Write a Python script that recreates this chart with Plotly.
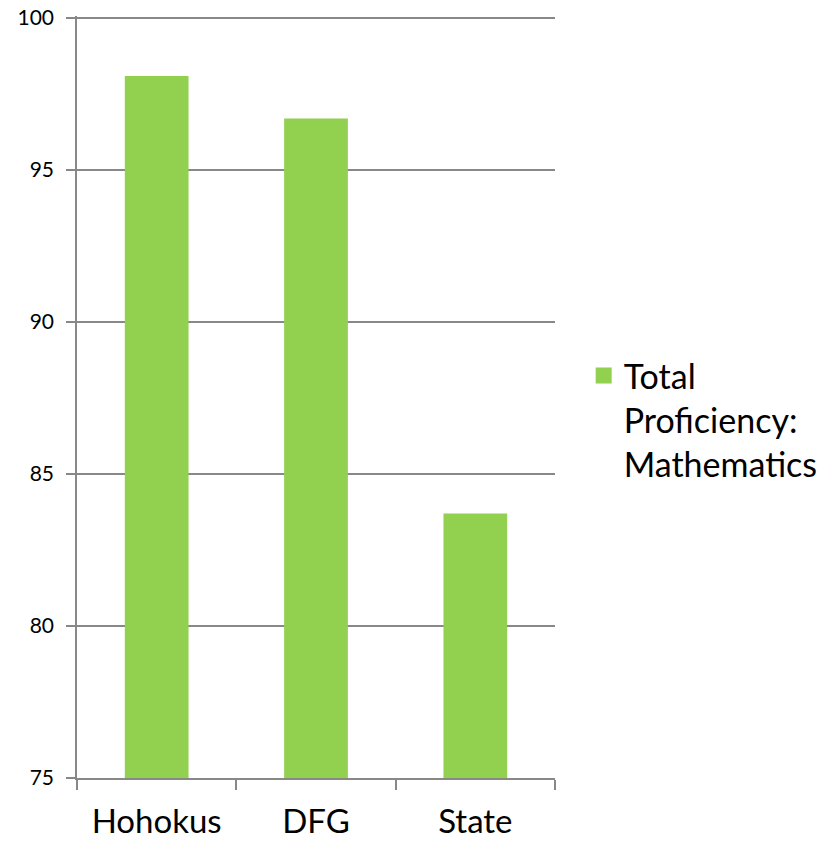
import plotly.graph_objects as go

categories = ["Hohokus", "DFG", "State"]
values = [98.1, 96.7, 83.7]
series_name = "Total<br>Proficiency:<br>Mathematics"
y_ticks = [75, 80, 85, 90, 95, 100]
bar_color = "#92D050"

fig = go.Figure()
fig.add_trace(go.Bar(x=categories, y=values, name=series_name,
                     marker=dict(color=bar_color, line=dict(width=0)),
                     showlegend=False))
# legend entry with a larger square swatch
fig.add_trace(go.Scatter(x=[None], y=[None], mode="markers", name=series_name,
                         marker=dict(symbol="square", size=21, color=bar_color),
                         showlegend=True))

fig.update_layout(
    width=838, height=842,
    margin=dict(l=77, r=283, t=16, b=64, autoexpand=False),
    paper_bgcolor="white", plot_bgcolor="white",
    bargap=0.6,
    font=dict(family="Lato, Open Sans, sans-serif", color="black"),
    legend=dict(x=1.06, y=0.47, xanchor="left", yanchor="middle",
                font=dict(size=34), itemsizing="trace", valign="top",
                bgcolor="rgba(0,0,0,0)", itemwidth=30),
)
fig.update_xaxes(type="category", showline=True, linecolor="#888888", linewidth=1.5,
                 ticks="outside", tickson="boundaries", ticklen=10,
                 tickcolor="#888888", tickwidth=1.5, automargin=False,
                 ticklabelstandoff=14,
                 tickfont=dict(size=33), showgrid=False)
fig.update_yaxes(range=[75, 100.07], tickvals=y_ticks, showline=True,
                 linecolor="#888888", linewidth=1.5, automargin=False,
                 ticks="outside", ticklen=9, tickcolor="#888888", tickwidth=1.5,
                 showgrid=True, gridcolor="#888888", gridwidth=1.5,
                 ticklabeloverflow="allow", ticklabelstandoff=8,
                 tickfont=dict(size=21), zeroline=False)

fig.write_html("out.html", config={"displayModeBar": False},
               post_script="document.body.style.margin='0';document.body.style.overflow='hidden';")
